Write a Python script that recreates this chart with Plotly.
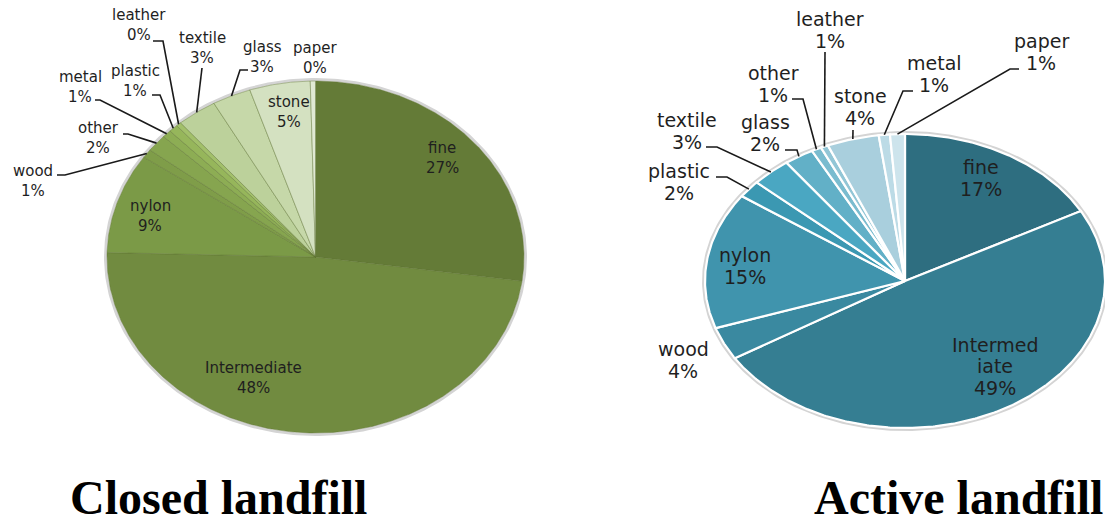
import numpy as np
import plotly.graph_objects as go

# ---- data -------------------------------------------------------------
closed_categories = ["fine", "Intermediate", "nylon", "wood", "other", "metal",
                     "plastic", "leather", "textile", "glass", "stone", "paper"]
closed_values = [27.2, 48.2, 9.2, 0.8, 1.6, 0.7, 0.7, 0.4, 3.1, 3.0, 4.7, 0.4]

active_categories = ["fine", "Intermediate", "wood", "nylon", "plastic", "textile",
                     "glass", "other", "leather", "stone", "metal", "paper"]
active_values = [17.1, 49.1, 3.6, 15.0, 1.9, 3.2, 2.4, 0.8, 0.6, 4.2, 0.9, 1.2]

chart_titles = ["Closed landfill", "Active landfill"]

# ---- styling ----------------------------------------------------------
closed_colors = ["#647b37", "#718b40", "#7b9a47", "#7f9d49", "#86a54f", "#8dad54",
                 "#96b65b", "#a2c06a", "#bcd19b", "#c6d8a9", "#d4e1c1", "#e0e9d3"]
active_colors = ["#2e6e80", "#357e92", "#3a89a0", "#4094ad", "#3b98b2", "#4aa7c2",
                 "#62b0c7", "#7abccf", "#92c6d6", "#a9cfdd", "#bcdbe6", "#cde4ec"]

closed_geom = dict(cx=315.5, cy=257.0, rx=208.5, ry=176.0)
active_geom = dict(cx=905.0, cy=281.0, rx=200.0, ry=147.0)

# label block centre, and optional leader (start point, elbow point)
closed_labels = {
    "fine": ((442, 158), None),
    "Intermediate": ((253, 378), None),
    "nylon": ((150, 216), None),
    "stone": ((289, 112), None),
    "paper": ((315, 58), None),
    "glass": ((262, 57), ((248, 70), (240, 70))),
    "textile": ((202, 48), ((202, 68), (202, 68))),
    "leather": ((139, 25), ((153, 41), (163, 41))),
    "plastic": ((135, 81), ((152, 95), (160, 95))),
    "metal": ((80, 87), ((95, 100), (100, 100))),
    "other": ((98, 138), ((123, 134), (128, 134))),
    "wood": ((33, 181), ((57, 175), (65, 175))),
}
active_labels = {
    "fine": ((981, 178), None),
    "Intermediate": ((995, 366), None),
    "nylon": ((745, 266), None),
    "wood": ((683, 360), None),
    "plastic": ((679, 182), ((716, 177), (727, 177))),
    "textile": ((687, 131), ((706, 147), (717, 147))),
    "glass": ((765, 133), ((785, 150), (797, 150))),
    "other": ((773, 84), ((792, 99), (803, 99))),
    "leather": ((830, 30), ((825, 52), (825, 52))),
    "stone": ((860, 107), ((853, 130), (853, 130))),
    "metal": ((934, 74), ((913, 91), (903, 91))),
    "paper": ((1041, 52), ((1019, 69), (1010, 69))),
}

TEXT_COLOR = "#1f1f1f"
LEADER_COLOR = "#1a1a1a"


def rim_point(g, deg):
    t = np.radians(deg)
    return g["cx"] + g["rx"] * np.sin(t), g["cy"] - g["ry"] * np.cos(t)


def wrap(name, width):
    if width is None or len(name) <= width + 2:
        return [name]
    return [name[i:i + width] for i in range(0, len(name), width)]


def add_pie(fig, names, values, colors, g, labels, border_color, border_width,
            font_size, line_gap, wrap_width):
    # soft rim behind the pie
    th = np.linspace(0, 360, 361)
    rx, ry = rim_point(dict(g, rx=g["rx"] + 1.5, ry=g["ry"] + 1.5), th)
    fig.add_trace(go.Scatter(x=rx, y=ry, mode="lines",
                             line=dict(color="#d4d4d4", width=3),
                             hoverinfo="skip", showlegend=False))
    total = float(sum(values))
    cum = 0.0
    mids = {}
    for name, v, c in zip(names, values, colors):
        a0 = cum / total * 360.0
        a1 = (cum + v) / total * 360.0
        n = max(int((a1 - a0) * 2) + 2, 3)
        xs, ys = rim_point(g, np.linspace(a0, a1, n))
        pct = round(v / total * 100)
        fig.add_trace(go.Scatter(
            x=[g["cx"]] + list(xs) + [g["cx"]],
            y=[g["cy"]] + list(ys) + [g["cy"]],
            fill="toself", fillcolor=c, mode="lines",
            line=dict(color=border_color, width=border_width),
            hoveron="fills", hoverinfo="text", text=f"{name}: {pct}%",
            showlegend=False))
        mids[name] = ((a0 + a1) / 2.0, pct)
        cum += v

    for name in names:
        (lx, ly), leader = labels[name]
        mid, pct = mids[name]
        lines = wrap(name, wrap_width) + [f"{pct}%"]
        y0 = ly - line_gap * (len(lines) - 1) / 2.0
        for i, txt in enumerate(lines):
            fig.add_annotation(x=lx, y=y0 + i * line_gap, text=txt, showarrow=False,
                               xanchor="center", yanchor="middle",
                               font=dict(family="DejaVu Sans", size=font_size,
                                         color=TEXT_COLOR))
        if leader is not None:
            (sx, sy), (ex, ey) = leader
            px, py = rim_point(g, mid)
            fig.add_trace(go.Scatter(x=[sx, ex, px], y=[sy, ey, py], mode="lines",
                                     line=dict(color=LEADER_COLOR, width=1.6),
                                     hoverinfo="skip", showlegend=False))


fig = go.Figure()
add_pie(fig, closed_categories, closed_values, closed_colors, closed_geom,
        closed_labels, "rgba(95,115,50,0.55)", 0.8, 15, 19.5, None)
add_pie(fig, active_categories, active_values, active_colors, active_geom,
        active_labels, "#ffffff", 2.2, 19, 21.5, 8)

for title, x in zip(chart_titles, [218, 958]):
    fig.add_annotation(x=x, y=526, text=f"<b>{title}</b>", showarrow=False,
                       xanchor="center", yanchor="bottom",
                       font=dict(family="Liberation Serif", size=48, color="#000000"))

fig.update_layout(
    width=1105, height=527,
    margin=dict(l=0, r=0, t=0, b=0),
    paper_bgcolor="white", plot_bgcolor="white",
    xaxis=dict(range=[0, 1105], visible=False, fixedrange=True),
    yaxis=dict(range=[527, 0], visible=False, fixedrange=True),
    showlegend=False,
)

fig.write_html("out.html")
